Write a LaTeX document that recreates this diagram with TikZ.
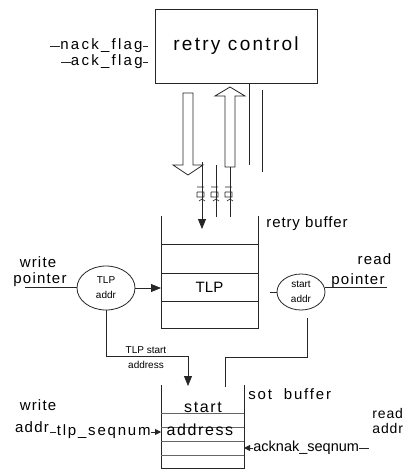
\documentclass[tikz,border=0pt]{standalone}
\usepackage{fontspec}
\setmainfont{Liberation Sans}
\usetikzlibrary{positioning, arrows.meta, shapes.geometric, calc}

\begin{document}
\begin{tikzpicture}[
  x=1pt, y=-1pt,
  line width=0.8pt, draw=black!85,
  lab/.style={inner sep=0pt, font=\fontsize{15}{17}\selectfont\addfontfeature{LetterSpace=8}},
  small/.style={inner sep=0pt, align=center, font=\fontsize{10}{15}\selectfont},
  ctrlbox/.style={draw, minimum width=162pt, minimum height=74pt, inner sep=0pt,
                  font=\fontsize{19}{21}\selectfont\addfontfeature{LetterSpace=12}},
  ptr/.style={draw, ellipse, inner sep=0pt, align=center, font=\fontsize{10}{15}\selectfont},
  hollow/.style={draw=black!85, fill=white, line width=0.8pt},
  tip/.style={-{Triangle[length=10pt, width=8pt]}},
  rowline/.style={draw=black!60},
]
  \useasboundingbox (0,0) rectangle (403,469);

  % retry control block and its flag inputs
  \node[ctrlbox] (ctrl) at (236,46) {retry control};
  \node[lab, anchor=east, font=\fontsize{15}{17}\selectfont\addfontfeature{LetterSpace=15}] (nack) at (143,46) {nack\_flag};
  \node[lab, anchor=east, font=\fontsize{15}{17}\selectfont\addfontfeature{LetterSpace=15}] (ack) at (143,62) {ack\_flag};
  \draw (nack.west) -- ++(-10,0);
  \draw (nack.east) -- ++(5,0);
  \draw (ack.west) -- ++(-10,0);
  \draw (ack.east) -- ++(5,0);

  % wide arrows between control and retry buffer
  \draw[hollow] (183,93) -- (183,165) -- (173,165) -- (188,175) -- (203,165)
    -- (193,165) -- (193,93) -- cycle;
  \draw[hollow] (225,167) -- (225,96) -- (215,96) -- (230,87) -- (245,96)
    -- (235,96) -- (235,167) -- cycle;
  \coordinate (cl) at (249,165);
  \draw (ctrl.south -| cl) -- (cl);
  \coordinate (vt) at (262,90);
  \coordinate (vb) at (262,172);
  \draw (vt) -- (vb);

  % retry buffer
  \coordinate (rbTL) at (161,216);
  \coordinate (rbTR) at (258,216);
  \draw (rbTL) -- (161,328) -- (258,328) -- (rbTR);
  \foreach \y in {244,273,301}
    \draw (161,\y) -- (258,\y);
  \node[lab, font=\fontsize{15}{17}\selectfont] (tlp) at (209.5,287) {TLP};
  \node[lab, anchor=west, font=\fontsize{15}{17}\selectfont\addfontfeature{LetterSpace=6}] (rbuf) at (266,224) {retry buffer};

  % thin signals into the buffer, with their small marks
  \coordinate (s1a) at (202,162);
  \coordinate (s1b) at (202,229);
  \coordinate (s2a) at (216,165);
  \coordinate (s2b) at (216,217);
  \coordinate (s3b) at (230,217);
  \draw[tip] (s1a) -- (s1b);
  \draw (s2a) -- (s2b);
  \draw (230,167) -- (s3b);
  \foreach \gx in {202,216,230} {
    \draw[line width=0.6pt] (\gx-5,187) -- (\gx+2,187)
      (\gx-5,192) -- (\gx+2,192) -- (\gx+2,197) -- (\gx-5,197) -- (\gx-5,192)
      (\gx-3,201) -- (\gx,199) -- (\gx+3,201);
  }

  % write side pointer
  \node[ptr, minimum width=58pt, minimum height=44pt] (tlpaddr) at (106,288) {TLP\\addr};
  \node[lab] (wr1) at (38,262) {write};
  \node[lab] (wr2) at (40,280) {pointer};
  \coordinate (wpin) at (25,287);
  \draw (wpin) -- (tlpaddr.west |- wpin);
  \draw[tip] (tlpaddr.east) -- (tlpaddr.east -| rbTL);

  % read side pointer
  \node[ptr, minimum width=48pt, minimum height=36pt] (saddr) at (301,292) {start\\addr};
  \node[lab] (rd1) at (374.5,259) {read};
  \node[lab] (rd2) at (358,281) {pointer};
  \coordinate (rpout) at (387,287);
  \draw (saddr.east |- rpout) -- (rpout);
  \draw (saddr.west) -- ++(-7,0);

  % start address into sot buffer
  \coordinate (bend1) at (188,356);
  \coordinate (sotin) at (188,386);
  \draw[tip] (tlpaddr.south) |- (bend1) -- (sotin);
  \node[small] (tlpst) at (146,358) {TLP start\\address};
  \coordinate (bend2) at (225,357);
  \coordinate (sotout) at (225,387);
  \draw ([xshift=6pt, yshift=-8pt]saddr.south) |- (bend2) -- (sotout);

  % sot buffer
  \coordinate (sbTL) at (161,385);
  \coordinate (sbTR) at (244,385);
  \draw (sbTL) -- (161,468) -- (244,468) -- (sbTR);
  \foreach \y in {413,427,441,455}
    \draw[rowline] (161,\y) -- (244,\y);
  \node[lab, font=\fontsize{16}{18}\selectfont\addfontfeature{LetterSpace=10}] (st1) at (203,407) {start};
  \node[lab, font=\fontsize{16}{18}\selectfont\addfontfeature{LetterSpace=10}] (st2) at (200,430) {address};
  \node[lab, anchor=west, font=\fontsize{15}{17}\selectfont\addfontfeature{LetterSpace=12}] (sbuf) at (248,394) {sot\ \ buffer};

  % sequence numbers
  \node[lab] (wa1) at (38,405) {write};
  \node[lab] (wa2) at (32,427) {addr};
  \node[lab, anchor=east, font=\fontsize{15}{17}\selectfont\addfontfeature{LetterSpace=12}] (tlpseq) at (151,432) {tlp\_seqnum};
  \draw (tlpseq.west) -- ++(-6,0);
  \draw[-{Triangle[length=6pt, width=6pt]}] (tlpseq.east) -- (tlpseq.east -| sbTL);
  \node[lab, anchor=west, font=\fontsize{14}{16}\selectfont\addfontfeature{LetterSpace=6}] (ra1) at (372,413) {read};
  \node[lab, anchor=west, font=\fontsize{14}{16}\selectfont\addfontfeature{LetterSpace=6}] (ra2) at (372,428) {addr};
  \node[lab, anchor=west, font=\fontsize{14.5}{17}\selectfont] (acks) at (253,448) {acknak\_seqnum};
  \draw (acks.east) -- ++(10,0);
  \draw[-{Triangle[length=6pt, width=6pt]}] (acks.west) -- (acks.west -| sbTR);
\end{tikzpicture}
\end{document}
